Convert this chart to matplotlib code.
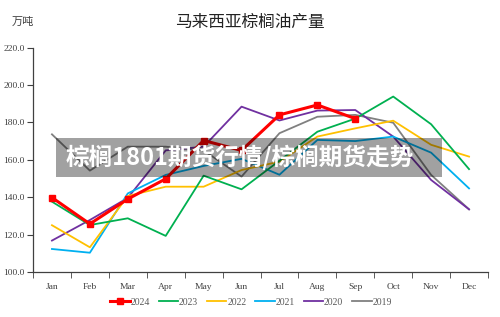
import matplotlib
matplotlib.use("Agg")
import matplotlib.pyplot as plt
from matplotlib.patches import Rectangle
from matplotlib.lines import Line2D

months = ["Jan", "Feb", "Mar", "Apr", "May", "Jun", "Jul", "Aug", "Sep", "Oct", "Nov", "Dec"]
s2024 = [139.8, 125.7, 139.0, 149.8, 170.3, 165.0, 184.0, 189.3, 182.0]
s2023 = [137.6, 125.1, 128.7, 119.3, 151.5, 144.2, 159.5, 175.0, 182.0, 193.8, 179.0, 155.0]
s2022 = [125.0, 113.2, 140.6, 145.6, 145.6, 154.5, 159.0, 172.4, 176.8, 180.9, 168.0, 161.7]
s2021 = [112.3, 110.3, 142.0, 151.9, 156.7, 160.5, 152.0, 170.6, 170.0, 172.4, 163.8, 144.7]
s2020 = [116.8, 127.8, 139.6, 165.0, 167.0, 188.4, 181.0, 186.3, 186.6, 172.4, 149.2, 133.5]
s2019 = [173.6, 154.2, 167.0, 167.0, 165.0, 151.0, 174.2, 183.0, 184.0, 179.8, 151.9, 133.5]
yticks = [100, 120, 140, 160, 180, 200, 220]

series = [
    ("2024", s2024, "#FF0000"),
    ("2023", s2023, "#00B050"),
    ("2022", s2022, "#FFC000"),
    ("2021", s2021, "#00B0F0"),
    ("2020", s2020, "#7030A0"),
    ("2019", s2019, "#808080"),
]

plt.rcParams['font.family'] = ['Liberation Serif', 'DejaVu Sans']
fig = plt.figure(figsize=(5.0, 3.17), dpi=100)
ax = fig.add_axes([0.066, 0.142, 0.910, 0.708])

handles = []
for name, vals, col in reversed(series):
    x = list(range(len(vals)))
    if name == "2024":
        ax.plot(x, vals, color=col, lw=2.2, marker='s', ms=4.5, zorder=5)
    else:
        ax.plot(x, vals, color=col, lw=1.3, zorder=3)
for name, vals, col in series:
    if name == "2024":
        handles.append(Line2D([], [], color=col, lw=2.2, marker='s', ms=4.5))
    else:
        handles.append(Line2D([], [], color=col, lw=1.3))

ax.set_xlim(-0.5, 11.5)
ax.set_ylim(100, 220)
ax.set_yticks(yticks)
ax.set_yticklabels([f"{v:.1f}" for v in yticks], fontsize=6.8, color='#404040')
ax.set_xticks(range(12))
ax.set_xticklabels(months, fontsize=6.8, color='#404040')
ax.set_xticks([i - 0.5 for i in range(13)], minor=True)
ax.tick_params(axis='x', which='major', length=0, pad=8)
ax.tick_params(axis='x', which='minor', length=4, color='#404040', direction='out')
ax.tick_params(axis='y', length=4, color='#404040', pad=2)
for s in ['top', 'right']:
    ax.spines[s].set_visible(False)
for s in ['left', 'bottom']:
    ax.spines[s].set_color('#404040')
    ax.spines[s].set_linewidth(0.9)

fig.legend(handles, [s[0] for s in series], loc='center', bbox_to_anchor=(0.502, 0.047),
           ncol=6, frameon=False, fontsize=7, handlelength=2.0, columnspacing=0.9,
           handletextpad=0.1, labelcolor='#595959')

fig.text(0.5, 0.93, "马来西亚棕榈油产量", ha='center', va='center', fontsize=12,
         family=['Noto Sans CJK SC', 'DejaVu Sans'], color='#222222')
fig.text(0.024, 0.93, "万吨", ha='left', va='center', fontsize=8,
         family=['Noto Sans CJK SC', 'DejaVu Sans'], color='#404040')

fig.add_artist(Rectangle((56 / 500, 1 - 177 / 317), (442 - 56) / 500, 39 / 317,
                         transform=fig.transFigure, facecolor='black', alpha=0.37,
                         edgecolor='none', zorder=10))
fig.text(66 / 500, 1 - 157.5 / 317, "棕榈1801期货行情/棕榈期货走势", ha='left', va='center',
         fontsize=17, fontweight='heavy', color='white',
         family=['Noto Sans CJK SC', 'DejaVu Sans'], zorder=11)

fig.savefig("out.png", dpi=100)
